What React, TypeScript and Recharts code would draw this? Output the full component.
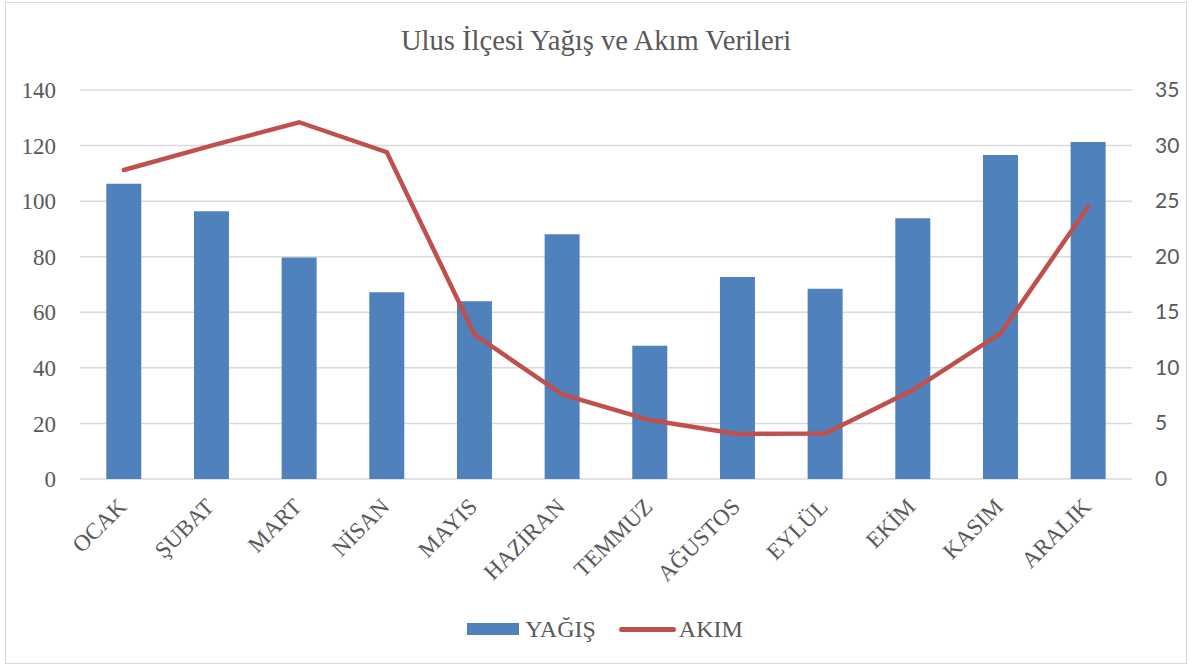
import { ComposedChart, Bar, Line, XAxis, YAxis, CartesianGrid, Legend } from "recharts";

const months = ["OCAK", "ŞUBAT", "MART", "NİSAN", "MAYIS", "HAZİRAN", "TEMMUZ", "AĞUSTOS", "EYLÜL", "EKİM", "KASIM", "ARALIK"];
const yagis = [106.3, 96.4, 79.7, 67.2, 64.0, 88.1, 48.0, 72.7, 68.5, 93.8, 116.6, 121.3];
const akim = [27.8, 30.0, 32.1, 29.4, 13.0, 7.6, 5.3, 4.05, 4.1, 8.0, 13.1, 24.5];
const leftTicks = [0, 20, 40, 60, 80, 100, 120, 140];
const rightTicks = [0, 5, 10, 15, 20, 25, 30, 35];

const data = months.map((m, i) => ({ month: m, "YAĞIŞ": yagis[i], AKIM: akim[i] }));

const serif = '"Liberation Serif", "Times New Roman", serif';
const sans = 'Lato, "Liberation Sans", Arial, sans-serif';
const grey = "#595959";

function MonthTick(props: any) {
  const { x, y, payload } = props;
  const ax = x + 4;
  const ay = y + 21;
  return (
    <text
      x={ax}
      y={ay}
      transform={`rotate(-45, ${ax}, ${ay})`}
      textAnchor="end"
      fontFamily={serif}
      fontSize={23}
      fill={grey}
    >
      {payload.value}
    </text>
  );
}

function RightTick(props: any) {
  const { y, payload } = props;
  return (
    <text x={1155} y={y} dy={7} textAnchor="start" fontFamily={sans} fontSize={21} fill={grey}>
      {payload.value}
    </text>
  );
}

function LegendBox() {
  return (
    <div
      style={{
        display: "flex",
        justifyContent: "center",
        alignItems: "center",
        height: 30,
        paddingLeft: 18,
        fontFamily: serif,
        fontSize: 24,
        color: grey,
      }}
    >
      <span style={{ display: "inline-block", width: 52, height: 12, background: "#4f81bd", marginRight: 6 }} />
      <span style={{ marginRight: 23 }}>YAĞIŞ</span>
      <span style={{ display: "inline-block", width: 57, height: 5, borderRadius: 3, background: "#c0504d", marginRight: 3 }} />
      <span>AKIM</span>
    </div>
  );
}

export default function App() {
  return (
    <div style={{ position: "fixed", left: 0, top: 0, width: 1192, height: 668, background: "#fff" }}>
      <div
        style={{
          position: "absolute",
          left: 5,
          top: 2,
          width: 1182,
          height: 662,
          border: "1.5px solid #d9d9d9",
          boxSizing: "border-box",
        }}
      />
      <div
        style={{
          position: "absolute",
          left: 0,
          top: 24,
          width: 1192,
          textAlign: "center",
          fontFamily: serif,
          fontSize: 28.6,
          lineHeight: "33px",
          color: grey,
        }}
      >
        Ulus İlçesi Yağış ve Akım Verileri
      </div>
      <ComposedChart
        width={1192}
        height={668}
        data={data}
        margin={{ top: 90, right: 0, left: 0, bottom: 24 }}
        barCategoryGap="30%"
        style={{ position: "absolute", left: 0, top: 0 }}
      >
        <CartesianGrid vertical={false} stroke="#d9d9d9" strokeWidth={1.5} yAxisId="left" />
        <XAxis
          dataKey="month"
          tick={<MonthTick />}
          tickLine={false}
          axisLine={false}
          height={135}
          interval={0}
        />
        <YAxis
          yAxisId="left"
          domain={[0, 140]}
          ticks={leftTicks}
          width={80}
          tickLine={false}
          axisLine={false}
          tick={{ fontFamily: serif, fontSize: 23, fill: grey }}
          tickMargin={18}
        />
        <YAxis
          yAxisId="right"
          orientation="right"
          domain={[0, 35]}
          ticks={rightTicks}
          width={60}
          tickLine={false}
          axisLine={false}
          tick={<RightTick />}
        />
        <Bar yAxisId="left" dataKey="YAĞIŞ" fill="#4f81bd" isAnimationActive={false} />
        <Line
          yAxisId="right"
          type="linear"
          dataKey="AKIM"
          stroke="#c0504d"
          strokeWidth={4.5}
          strokeLinecap="round"
          dot={false}
          isAnimationActive={false}
        />
        <Legend verticalAlign="bottom" height={30} content={<LegendBox />} />
      </ComposedChart>
    </div>
  );
}
